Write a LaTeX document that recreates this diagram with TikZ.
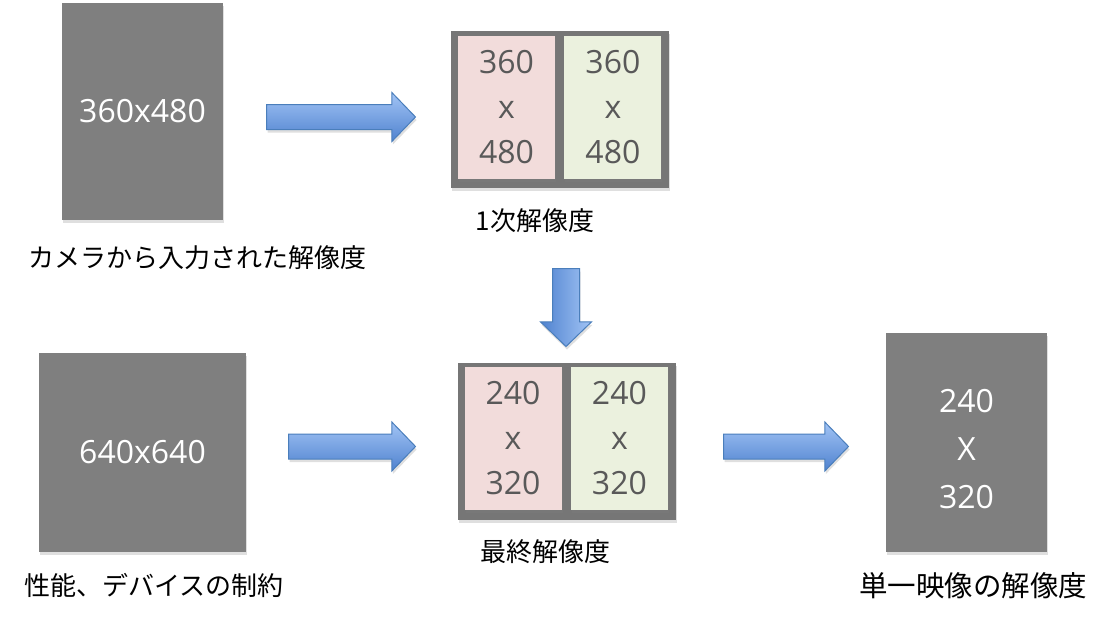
\documentclass[tikz,border=0pt]{standalone}
\usepackage{fontspec}
\setmainfont{Open Sans}
\newfontfamily\jpfont{Noto Sans CJK JP}
\usepackage{xcolor}
\usetikzlibrary{positioning, shapes.arrows, shadows}

\definecolor{resgray}{HTML}{7F7F7F}
\definecolor{framegray}{HTML}{767676}
\definecolor{cellpink}{HTML}{F2DCDB}
\definecolor{cellgreen}{HTML}{EBF1DE}
\definecolor{celltext}{HTML}{595959}
\definecolor{arrowtop}{HTML}{A2C4F5}
\definecolor{arrowbot}{HTML}{4F82CF}
\definecolor{arrowline}{HTML}{4A7EBB}

\begin{document}
\begin{tikzpicture}[
      x=1pt, y=-1pt,
      node distance=9pt,
      shade/.style={drop shadow={opacity=0.25, shadow xshift=1pt, shadow yshift=-3pt}},
      resbox/.style={shade, fill=resgray, text=white, align=center, font=\fontsize{32}{48}\selectfont},
      framebox/.style={shade, fill=framegray, minimum width=218pt, minimum height=157pt},
      cell/.style={shade, minimum width=97pt, minimum height=143pt, inner sep=0pt, align=center, text=celltext, font=\fontsize{32}{45}\selectfont},
      pinkcell/.style={cell, fill=cellpink},
      greencell/.style={cell, fill=cellgreen},
      caption/.style={font=\jpfont\fontsize{26}{30}\selectfont, inner sep=0pt},
      blockarrow/.style={single arrow, draw=arrowline, line width=1pt, minimum width=0pt,
        single arrow head extend=12pt, single arrow tip angle=92, anchor=tail, shade},
      rightarrow/.style={blockarrow, inner xsep=0pt, inner ysep=12pt, top color=arrowtop, bottom color=arrowbot},
      downarrow/.style={blockarrow, inner xsep=13pt, inner ysep=0pt, shape border rotate=270, left color=arrowbot, right color=arrowtop}
    ]
    \useasboundingbox (0,0) rectangle (1108,619);

    % input and device limits
    \node[resbox, minimum width=161pt, minimum height=217pt] (camera) at (142.5,111.5) {360x480};
    \node[caption] (camLabel) at (197,258) {カメラから入力された解像度};
    \node[resbox, minimum width=207pt, minimum height=199pt] (device) at (142.5,452.5) {640x640};
    \node[caption] (devLabel) at (154,585) {性能、デバイスの制約};

    % first resolution
    \node[framebox] (firstFrame) at (560,109.5) {};
    \node[pinkcell] (firstLeft) at (506.5,107) {360\\x\\480};
    \node[greencell, right=9pt of firstLeft] (firstRight) {360\\x\\480};
    \node[caption] (firstLabel) at (535,221) {1次解像度};

    % final resolution
    \node[framebox] (finalFrame) at (567,441.5) {};
    \node[pinkcell] (finalLeft) at (513,438) {240\\x\\320};
    \node[greencell, right=9pt of finalLeft] (finalRight) {240\\x\\320};
    \node[caption] (finalLabel) at (545,552) {最終解像度};

    % single view
    \node[resbox, minimum width=161pt, minimum height=219pt] (single) at (966.5,442.5) {\rule{0pt}{37pt}240\\X\\320};
    \node[caption, font=\jpfont\fontsize{28.5}{30}\selectfont] (singleLabel) at (973,586) {単一映像の解像度};

    % block arrows
    \node[rightarrow, minimum height=149pt] (camArrow) at (266,117) {};
    \node[downarrow, minimum height=78pt] (downArrow) at (566,268) {};
    \node[rightarrow, minimum height=127pt] (devArrow) at (288,446.5) {};
    \node[rightarrow, minimum height=125pt] (outArrow) at (723,446.5) {};
  \end{tikzpicture}
\end{document}
